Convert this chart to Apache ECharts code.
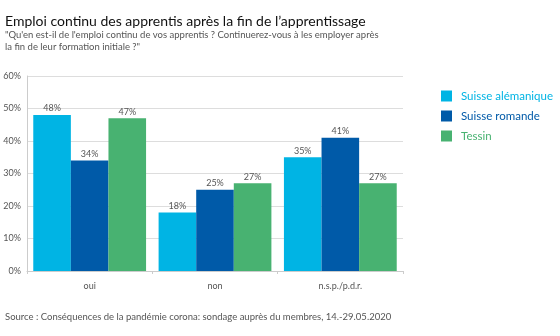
<!DOCTYPE html>
<html>
<head>
<meta charset="utf-8">
<script src="https://cdn.jsdelivr.net/npm/echarts@6/dist/echarts.min.js"></script>
<style>
  html, body { margin: 0; padding: 0; background: #fff; }
  #chart { width: 560px; height: 336px; }
</style>
</head>
<body>
<div id="chart"></div>
<script>
// Données
const categories = ['oui', 'non', 'n.s.p./p.d.r.'];
const alemanique = [48, 18, 35];
const romande = [34, 25, 41];
const tessin = [47, 27, 27];
const yTicks = [0, 10, 20, 30, 40, 50, 60];

const font = 'Lato, "Open Sans", sans-serif';
const colors = ['#00b4e4', '#005aa8', '#48b271'];

const chart = echarts.init(document.getElementById('chart'));

const mkSeries = (name, data, color) => ({
  name,
  type: 'bar',
  data,
  barGap: '0%',
  barCategoryGap: '10%',
  itemStyle: { color },
  label: {
    show: true,
    position: 'top',
    distance: 2,
    formatter: '{c}%',
    color: '#555',
    fontSize: 9,
    fontFamily: font,
  },
});

chart.setOption({
  animation: false,
  backgroundColor: '#fff',
  title: [
    {
      text: 'Emploi continu des apprentis après la fin de l’apprentissage',
      left: 0,
      top: 9,
      textStyle: { fontSize: 14, fontWeight: 'normal', color: '#111', fontFamily: font },
    },
    {
      text: '"Qu\'en est-il de l\'emploi continu de vos apprentis ? Continuerez-vous à les employer après\nla fin de leur formation initiale ?"',
      left: 0,
      top: 24,
      textStyle: { fontSize: 9.5, fontWeight: 'normal', color: '#555', fontFamily: font, lineHeight: 12 },
    },
    {
      text: 'Source : Conséquences de la pandémie corona: sondage auprès du membres, 14.-29.05.2020',
      left: 0,
      top: 307,
      textStyle: { fontSize: 9.5, fontWeight: 'normal', color: '#555', fontFamily: font },
    },
  ],
  legend: {
    orient: 'vertical',
    left: 436,
    top: 85,
    itemWidth: 11,
    itemHeight: 11,
    itemGap: 8,
    icon: 'rect',
    textStyle: { fontSize: 11.5, fontFamily: font, padding: [0, 0, 0, 4] },
    data: [
      { name: 'Suisse alémanique', textStyle: { color: colors[0] } },
      { name: 'Suisse romande', textStyle: { color: colors[1] } },
      { name: 'Tessin', textStyle: { color: colors[2] } },
    ],
  },
  grid: { left: 27, right: 157, top: 76, bottom: 65 },
  xAxis: {
    type: 'category',
    data: categories,
    axisLine: { lineStyle: { color: '#ccc' } },
    axisTick: { show: true, length: 3, lineStyle: { color: '#ccc' } },
    axisLabel: { color: '#555', fontSize: 9, fontFamily: font, margin: 11 },
  },
  yAxis: {
    type: 'value',
    min: yTicks[0],
    max: yTicks[yTicks.length - 1],
    interval: 10,
    axisLine: { show: true, lineStyle: { color: '#ccc' } },
    axisLabel: { color: '#555', fontSize: 9, fontFamily: font, formatter: '{value}%', margin: 6 },
    splitLine: { lineStyle: { color: '#ddd' } },
  },
  series: [
    mkSeries('Suisse alémanique', alemanique, colors[0]),
    mkSeries('Suisse romande', romande, colors[1]),
    mkSeries('Tessin', tessin, colors[2]),
  ],
});
</script>
</body>
</html>
